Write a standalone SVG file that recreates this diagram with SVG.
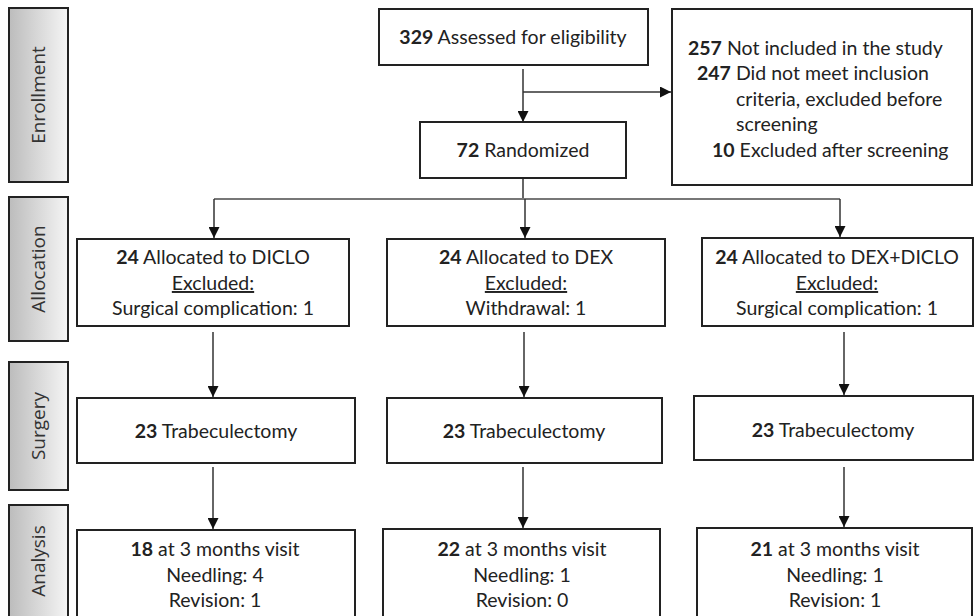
<svg xmlns="http://www.w3.org/2000/svg" width="975" height="616" viewBox="0 0 975 616">
<style>
.box{fill:#fff;stroke:#222;stroke-width:2}
.side{fill:url(#g);stroke:#222;stroke-width:2}
.t{font-family:Lato,"Liberation Sans",sans-serif;font-size:19.5px;fill:#222;text-anchor:middle}
.tl{font-family:Lato,"Liberation Sans",sans-serif;font-size:19.5px;fill:#222}
.b{font-weight:bold}
.s{font-family:"Open Sans","Liberation Sans",sans-serif;font-size:19px;fill:#333;text-anchor:middle}
.ln{fill:none;stroke:#333;stroke-width:1.5}
.hl{fill:none;stroke:#777;stroke-width:2}
</style>
<defs>
<linearGradient id="g" x1="0" y1="0" x2="1" y2="0">
<stop offset="0" stop-color="#bcbcbc"/>
<stop offset="1" stop-color="#f5f5f5"/>
</linearGradient>
<marker id="a" viewBox="0 0 10 10" refX="10" refY="5" markerWidth="12" markerHeight="11" markerUnits="userSpaceOnUse" orient="auto">
<path d="M0,0 L10,5 L0,10 Z" fill="#111"/>
</marker>
</defs>

<g id="phase-enrollment"><rect class="side" x="9" y="8" width="59" height="174"/><text class="s" transform="translate(45,95) rotate(-90)">Enrollment</text></g>
<g id="phase-allocation"><rect class="side" x="9" y="197" width="59" height="144"/><text class="s" transform="translate(45,269) rotate(-90)">Allocation</text></g>
<g id="phase-surgery"><rect class="side" x="9" y="362" width="59" height="128"/><text class="s" transform="translate(45,426) rotate(-90)">Surgery</text></g>
<g id="phase-analysis"><rect class="side" x="9" y="505" width="59" height="115"/><text class="s" transform="translate(45,561) rotate(-90)">Analysis</text></g>

<g id="connectors">
<line class="ln" x1="523" y1="69" x2="523" y2="122" marker-end="url(#a)"/>
<line class="ln" x1="523" y1="92" x2="671" y2="92" marker-end="url(#a)"/>
<line class="ln" x1="523" y1="178" x2="523" y2="199"/>
<line class="hl" x1="214" y1="199" x2="840" y2="199"/>
<line class="ln" x1="214" y1="199" x2="214" y2="238" marker-end="url(#a)"/>
<line class="ln" x1="525" y1="199" x2="525" y2="238" marker-end="url(#a)"/>
<line class="ln" x1="840" y1="199" x2="840" y2="237" marker-end="url(#a)"/>
<line class="ln" x1="213" y1="332" x2="213" y2="397" marker-end="url(#a)"/>
<line class="ln" x1="524" y1="332" x2="524" y2="397" marker-end="url(#a)"/>
<line class="ln" x1="844" y1="332" x2="844" y2="395" marker-end="url(#a)"/>
<line class="ln" x1="213" y1="467" x2="213" y2="529" marker-end="url(#a)"/>
<line class="ln" x1="523" y1="467" x2="523" y2="528" marker-end="url(#a)"/>
<line class="ln" x1="844" y1="467" x2="844" y2="527" marker-end="url(#a)"/>
</g>

<g id="n-assessed"><rect class="box" x="379" y="9" width="269" height="56"/><text class="t" x="513" y="44"><tspan class="b">329</tspan> Assessed for eligibility</text></g>
<g id="n-excluded"><rect class="box" x="672" y="9" width="300" height="176"/>
<text class="tl" x="688" y="55"><tspan class="b">257</tspan> Not included in the study</text>
<text class="tl" x="697" y="80"><tspan class="b">247</tspan> Did not meet inclusion</text>
<text class="tl" x="736" y="106">criteria, excluded before</text>
<text class="tl" x="736" y="131">screening</text>
<text class="tl" x="712" y="157"><tspan class="b">10</tspan> Excluded after screening</text>
</g>
<g id="n-randomized"><rect class="box" x="420" y="122" width="206" height="56"/><text class="t" x="523" y="157"><tspan class="b">72</tspan> Randomized</text></g>

<g id="n-alloc-diclo"><rect class="box" x="77" y="239" width="272" height="87"/>
<text class="t" x="213" y="264"><tspan class="b">24</tspan> Allocated to DICLO</text>
<text class="t" x="213" y="290" text-decoration="underline">Excluded:</text>
<text class="t" x="213" y="315">Surgical complication: 1</text></g>
<g id="n-alloc-dex"><rect class="box" x="387" y="239" width="278" height="87"/>
<text class="t" x="526" y="264"><tspan class="b">24</tspan> Allocated to DEX</text>
<text class="t" x="526" y="290" text-decoration="underline">Excluded:</text>
<text class="t" x="526" y="315">Withdrawal: 1</text></g>
<g id="n-alloc-dexdiclo"><rect class="box" x="702" y="238" width="271" height="88"/>
<text class="t" x="837" y="264"><tspan class="b">24</tspan> Allocated to DEX+DICLO</text>
<text class="t" x="837" y="290" text-decoration="underline">Excluded:</text>
<text class="t" x="837" y="315">Surgical complication: 1</text></g>

<g id="n-surg-diclo"><rect class="box" x="77" y="398" width="278" height="65"/><text class="t" x="216" y="438"><tspan class="b">23</tspan> Trabeculectomy</text></g>
<g id="n-surg-dex"><rect class="box" x="387" y="398" width="275" height="65"/><text class="t" x="524" y="438"><tspan class="b">23</tspan> Trabeculectomy</text></g>
<g id="n-surg-dexdiclo"><rect class="box" x="694" y="396" width="279" height="64"/><text class="t" x="833" y="437"><tspan class="b">23</tspan> Trabeculectomy</text></g>

<g id="n-an-diclo"><rect class="box" x="77" y="530" width="278" height="95"/>
<text class="t" x="215" y="556"><tspan class="b">18</tspan> at 3 months visit</text>
<text class="t" x="215" y="582">Needling: 4</text>
<text class="t" x="215" y="607">Revision: 1</text></g>
<g id="n-an-dex"><rect class="box" x="383" y="529" width="277" height="96"/>
<text class="t" x="522" y="556"><tspan class="b">22</tspan> at 3 months visit</text>
<text class="t" x="522" y="582">Needling: 1</text>
<text class="t" x="522" y="607">Revision: 0</text></g>
<g id="n-an-dexdiclo"><rect class="box" x="697" y="528" width="275" height="97"/>
<text class="t" x="835" y="556"><tspan class="b">21</tspan> at 3 months visit</text>
<text class="t" x="835" y="582">Needling: 1</text>
<text class="t" x="835" y="607">Revision: 1</text></g>
</svg>
